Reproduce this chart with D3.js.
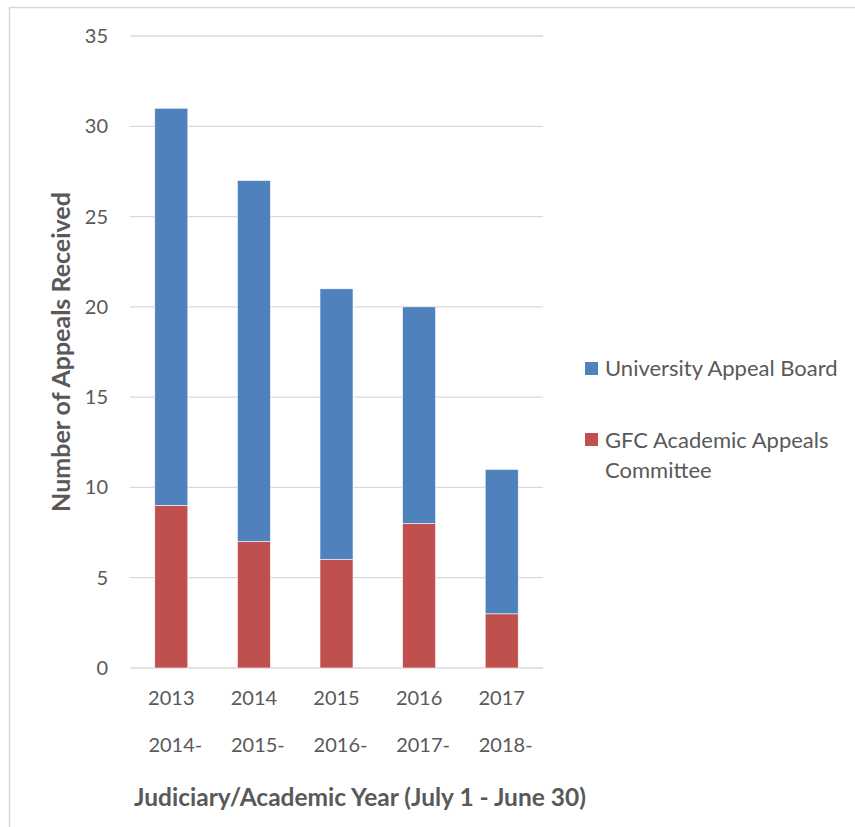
<!DOCTYPE html>
<html><head><meta charset="utf-8">
<script src="https://cdn.jsdelivr.net/npm/d3@7"></script>
<style>body{margin:0;background:#fff}svg{display:block}text{font-family:Lato,"Open Sans",sans-serif;fill:#595959}</style>
</head><body><svg id="c" width="855" height="827"></svg>
<script>
const line1 = ["2013","2014","2015","2016","2017"];
const line2 = ["2014-","2015-","2016-","2017-","2018-"];
const gfc = [9,7,6,8,3];
const uab = [22,20,15,12,8];
const seriesNames = ["University Appeal Board","GFC Academic Appeals Committee"];
const yTicks = [0,5,10,15,20,25,30,35];

const svg = d3.select("#c");
const blue = "#4F81BD", red = "#C0504D";
svg.append("rect").attr("x",9.5).attr("y",7.5).attr("width",900).attr("height",900)
  .attr("fill","none").attr("stroke","#D9D9D9").attr("stroke-width",1.5);

const x = d3.scaleBand().domain(line1).range([130,543]).paddingInner(0.6).paddingOuter(0.3);
const y = d3.scaleLinear().domain([0,35]).range([668,36]);

const g = svg.append("g");
g.selectAll("line.grid").data(yTicks).join("line").attr("class","grid")
  .attr("x1",130).attr("x2",543).attr("y1",d=>y(d)).attr("y2",d=>y(d))
  .attr("stroke","#D9D9D9").attr("stroke-width",1.3);

const data = line1.map((k,i)=>({k, gfc:gfc[i], uab:uab[i]}));
const stack = d3.stack().keys(["gfc","uab"])(data);
const colors = {gfc:red, uab:blue};
stack.forEach(s=>{
  g.selectAll(null).data(s).join("rect")
   .attr("x",d=>x(d.data.k)).attr("width",x.bandwidth())
   .attr("y",d=>y(d[1])).attr("height",d=>y(d[0])-y(d[1]))
   .attr("fill",colors[s.key]).attr("stroke","#fff").attr("stroke-width",0.6);
});

g.selectAll("text.yt").data(yTicks).join("text").attr("class","yt")
  .attr("x",108).attr("y",d=>y(d)).attr("dy","0.35em").attr("text-anchor","end")
  .attr("font-size",20).text(d=>d);

g.selectAll("text.x1").data(line1).join("text")
  .attr("x",d=>x(d)+x.bandwidth()/2).attr("y",705).attr("text-anchor","middle")
  .attr("font-size",20).text(d=>d);
g.selectAll("text.x2").data(line2).join("text")
  .attr("x",(d,i)=>x(line1[i])+x.bandwidth()/2+4).attr("y",752).attr("text-anchor","middle")
  .attr("font-size",20).text(d=>d);

svg.append("text").attr("x",360).attr("y",806).attr("text-anchor","middle")
  .attr("font-size",24.5).attr("font-weight","bold").text("Judiciary/Academic Year (July 1 - June 30)");
svg.append("text").attr("transform","translate(70,352) rotate(-90)").attr("text-anchor","middle")
  .attr("font-size",25).attr("font-weight","bold").text("Number of Appeals Received");

const lg = svg.append("g");
lg.append("rect").attr("x",585).attr("y",362).attr("width",13).attr("height",13).attr("fill",blue);
lg.append("text").attr("x",605).attr("y",376).attr("font-size",22).text(seriesNames[0]);
lg.append("rect").attr("x",585).attr("y",433).attr("width",13).attr("height",13).attr("fill",red);
lg.append("text").attr("x",605).attr("y",448).attr("font-size",22).text("GFC Academic Appeals");
lg.append("text").attr("x",605).attr("y",478).attr("font-size",22).text("Committee");
</script></body></html>
